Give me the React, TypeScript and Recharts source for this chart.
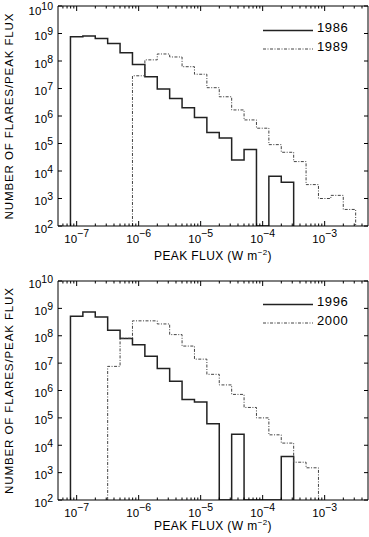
import React from "react";
import { LineChart, Line, XAxis, YAxis, Legend } from "recharts";

// flare counts per 0.2-decade bin of peak flux; start = log10 of the first bin's lower edge
const BIN_WIDTH = 0.2;

const start1986 = -7.1;
const counts1986 = [
  7.6e8, 8.1e8, 6.6e8, 4.3e8, 2.0e8, 7.5e7, 2.7e7, 9.6e6, 4.3e6, 2.0e6, 8.8e5, 2.5e5,
  1.6e5, 2.5e4, 6.1e4, 0, 6.5e3, 3.9e3,
];

const start1989 = -6.1;
const counts1989 = [
  2.9e7, 1.1e8, 1.8e8, 1.4e8, 6.2e7, 3.3e7, 1.07e7, 5.0e6, 1.66e6, 7.2e5, 3.6e5, 9.1e4,
  4.8e4, 2.2e4, 3.2e3, 1.0e3, 1.3e3, 4.0e2,
];

const start1996 = -7.1;
const counts1996 = [
  5.2e8, 7.3e8, 4.8e8, 1.6e8, 8.0e7, 4.7e7, 1.8e7, 6.3e6, 2.2e6, 4.7e5, 3.8e5, 6.1e4,
  0, 2.5e4, 0, 0, 0, 3.9e3,
];

const start2000 = -6.5;
const counts2000 = [
  7.6e6, 8.1e7, 3.5e8, 3.5e8, 2.7e8, 1.1e8, 4.2e7, 1.4e7, 3.9e6, 1.6e6, 7.2e5, 2.4e5,
  1.0e5, 2.4e4, 1.2e4, 2.4e3, 1.5e3,
];

const X_DOMAIN = [5e-8, 5e-3];
const Y_DOMAIN = [1e2, 1e10];
const Y_FLOOR = 1e2; // empty bins drop to the bottom of the log axis

const FONT = '"Liberation Sans", Arial, Helvetica, sans-serif';

const xTicks: number[] = [];
for (let e = -8; e <= -3; e++) {
  for (let m = 1; m <= 9; m++) {
    const v = m * Math.pow(10, e);
    if (v > X_DOMAIN[0] * 1.001 && v < X_DOMAIN[1] * 0.999) xTicks.push(v);
  }
}
const yTicks = [1e2, 1e3, 1e4, 1e5, 1e6, 1e7, 1e8, 1e9, 1e10];

const isMajor = (v: number) =>
  Math.abs(Math.log10(v) - Math.round(Math.log10(v))) < 1e-6;
const expOf = (v: number) => Math.round(Math.log10(v));
const fmtExp = (e: number) => (e < 0 ? "\u2212" + Math.abs(e) : String(e));

function stepPoints(start: number, counts: number[]) {
  const pts = [{ x: Math.pow(10, start), y: Y_FLOOR }];
  counts.forEach((c, i) => {
    pts.push({ x: Math.pow(10, start + i * BIN_WIDTH), y: c > 0 ? c : Y_FLOOR });
  });
  pts.push({ x: Math.pow(10, start + counts.length * BIN_WIDTH), y: Y_FLOOR });
  return pts;
}

const BottomTick = (props: any) => {
  const { x, y, payload } = props;
  const major = isMajor(payload.value);
  return (
    <g>
      <line x1={x} x2={x} y1={y} y2={y - (major ? 5 : 2.5)} stroke="#000" />
      {major && (
        <text x={x} y={y + 17} textAnchor="middle" fontSize={11.5} fontFamily={FONT} fill="#000">
          10
          <tspan dy={-6} fontSize={10.5}>
            {fmtExp(expOf(payload.value))}
          </tspan>
        </text>
      )}
    </g>
  );
};

const TopTick = (props: any) => {
  const { x, y, payload } = props;
  const major = isMajor(payload.value);
  return <line x1={x} x2={x} y1={y} y2={y + (major ? 5 : 2.5)} stroke="#000" />;
};

const LeftTick = (props: any) => {
  const { x, y, payload } = props;
  // keep the top label inside the picture
  const push = Math.max(0, 8.5 - y);
  return (
    <g>
      <line x1={x} x2={x + 4} y1={y} y2={y} stroke="#000" />
      <text x={x - 5} y={y + 6.5 + push} textAnchor="end" fontSize={11.5} fontFamily={FONT} fill="#000">
        10
        <tspan dy={-5} fontSize={10.5}>
          {fmtExp(expOf(payload.value))}
        </tspan>
      </text>
    </g>
  );
};

const RightTick = (props: any) => {
  const { x, y } = props;
  return <line x1={x} x2={x - 4} y1={y} y2={y} stroke="#000" />;
};

type Series = { name: string; start: number; counts: number[]; dashed: boolean };

const SOLID = { stroke: "#222", width: 1.5, dash: undefined as string | undefined };
const DASHED = { stroke: "#444", width: 1, dash: "3 1.5 1 1.5" };

function LegendBox({ series }: { series: Series[] }) {
  return (
    <svg width={110} height={40}>
      {series.map((s, i) => {
        const st = s.dashed ? DASHED : SOLID;
        return (
          <g key={s.name}>
            <line
              x1={5}
              x2={55}
              y1={10.5 + i * 18.5}
              y2={10.5 + i * 18.5}
              stroke={st.stroke}
              strokeWidth={st.width}
              strokeDasharray={st.dash}
            />
            <text x={59} y={12 + i * 18.5} fontSize={13} fontFamily={FONT} fill="#000" letterSpacing={0.6}>
              {s.name}
            </text>
          </g>
        );
      })}
    </svg>
  );
}

type PanelProps = {
  height: number;
  plotTop: number;
  plotBottom: number;
  series: Series[];
  legendTop: number;
  titleGap: number;
};

function Panel({ height, plotTop, plotBottom, series, legendTop, titleGap }: PanelProps) {
  const midY = (plotTop + plotBottom) / 2;
  return (
    <LineChart width={369} height={height} margin={{ top: 0, right: 0, bottom: 0, left: 0 }}>
      <XAxis
        xAxisId="b"
        type="number"
        dataKey="x"
        scale="log"
        domain={X_DOMAIN}
        allowDataOverflow
        ticks={xTicks}
        interval={0}
        tickSize={0}
        tickMargin={0}
        tick={BottomTick}
        tickLine={false}
        axisLine={{ stroke: "#000" }}
        height={height - plotBottom}
        label={{
          content: () => (
            <text
              x={213}
              y={plotBottom + titleGap}
              textAnchor="middle"
              fontSize={12}
              fontFamily={FONT}
              fill="#000"
              letterSpacing={0.4}
            >
              PEAK FLUX (W m
              <tspan dy={-5} fontSize={8}>
                {"\u22122"}
              </tspan>
              <tspan dy={5}>)</tspan>
            </text>
          ),
        }}
      />
      <XAxis
        xAxisId="t"
        orientation="top"
        type="number"
        dataKey="x"
        scale="log"
        domain={X_DOMAIN}
        allowDataOverflow
        ticks={xTicks}
        interval={0}
        tickSize={0}
        tickMargin={0}
        tick={TopTick}
        tickLine={false}
        axisLine={{ stroke: "#000" }}
        height={plotTop}
      />
      <YAxis
        yAxisId="l"
        type="number"
        scale="log"
        domain={Y_DOMAIN}
        allowDataOverflow
        ticks={yTicks}
        interval={0}
        tickSize={0}
        tickMargin={0}
        tick={LeftTick}
        tickLine={false}
        axisLine={{ stroke: "#000" }}
        width={58}
        label={{
          content: () => (
            <text
              x={13}
              y={midY}
              transform={`rotate(-90, 13, ${midY})`}
              textAnchor="middle"
              fontSize={11.5}
              fontFamily={FONT}
              fill="#000"
              letterSpacing={0.9}
            >
              NUMBER OF FLARES/PEAK FLUX
            </text>
          ),
        }}
      />
      <YAxis
        yAxisId="r"
        orientation="right"
        type="number"
        scale="log"
        domain={Y_DOMAIN}
        allowDataOverflow
        ticks={yTicks}
        interval={0}
        tickSize={0}
        tickMargin={0}
        tick={RightTick}
        tickLine={false}
        axisLine={{ stroke: "#000" }}
        width={1}
      />
      <Legend
        layout="horizontal"
        verticalAlign="middle"
        align="center"
        wrapperStyle={{ top: legendTop, left: 258, width: 110, height: 40 }}
        content={() => <LegendBox series={series} />}
      />
      {series.map((s) => {
        const st = s.dashed ? DASHED : SOLID;
        return (
          <Line
            key={s.name}
            name={s.name}
            xAxisId="b"
            yAxisId="l"
            data={stepPoints(s.start, s.counts)}
            dataKey="y"
            type="stepAfter"
            stroke={st.stroke}
            strokeWidth={st.width}
            strokeDasharray={st.dash}
            dot={false}
            activeDot={false}
            isAnimationActive={false}
          />
        );
      })}
    </LineChart>
  );
}

const topSeries: Series[] = [
  { name: "1986", start: start1986, counts: counts1986, dashed: false },
  { name: "1989", start: start1989, counts: counts1989, dashed: true },
];
const bottomSeries: Series[] = [
  { name: "1996", start: start1996, counts: counts1996, dashed: false },
  { name: "2000", start: start2000, counts: counts2000, dashed: true },
];

export default function App() {
  return (
    <div style={{ position: "absolute", left: 0, top: 0, width: 369, height: 537, background: "#fff" }}>
      <Panel height={268} plotTop={6} plotBottom={226} series={topSeries} legendTop={20} titleGap={34} />
      <Panel height={269} plotTop={13} plotBottom={232} series={bottomSeries} legendTop={26} titleGap={30} />
    </div>
  );
}
